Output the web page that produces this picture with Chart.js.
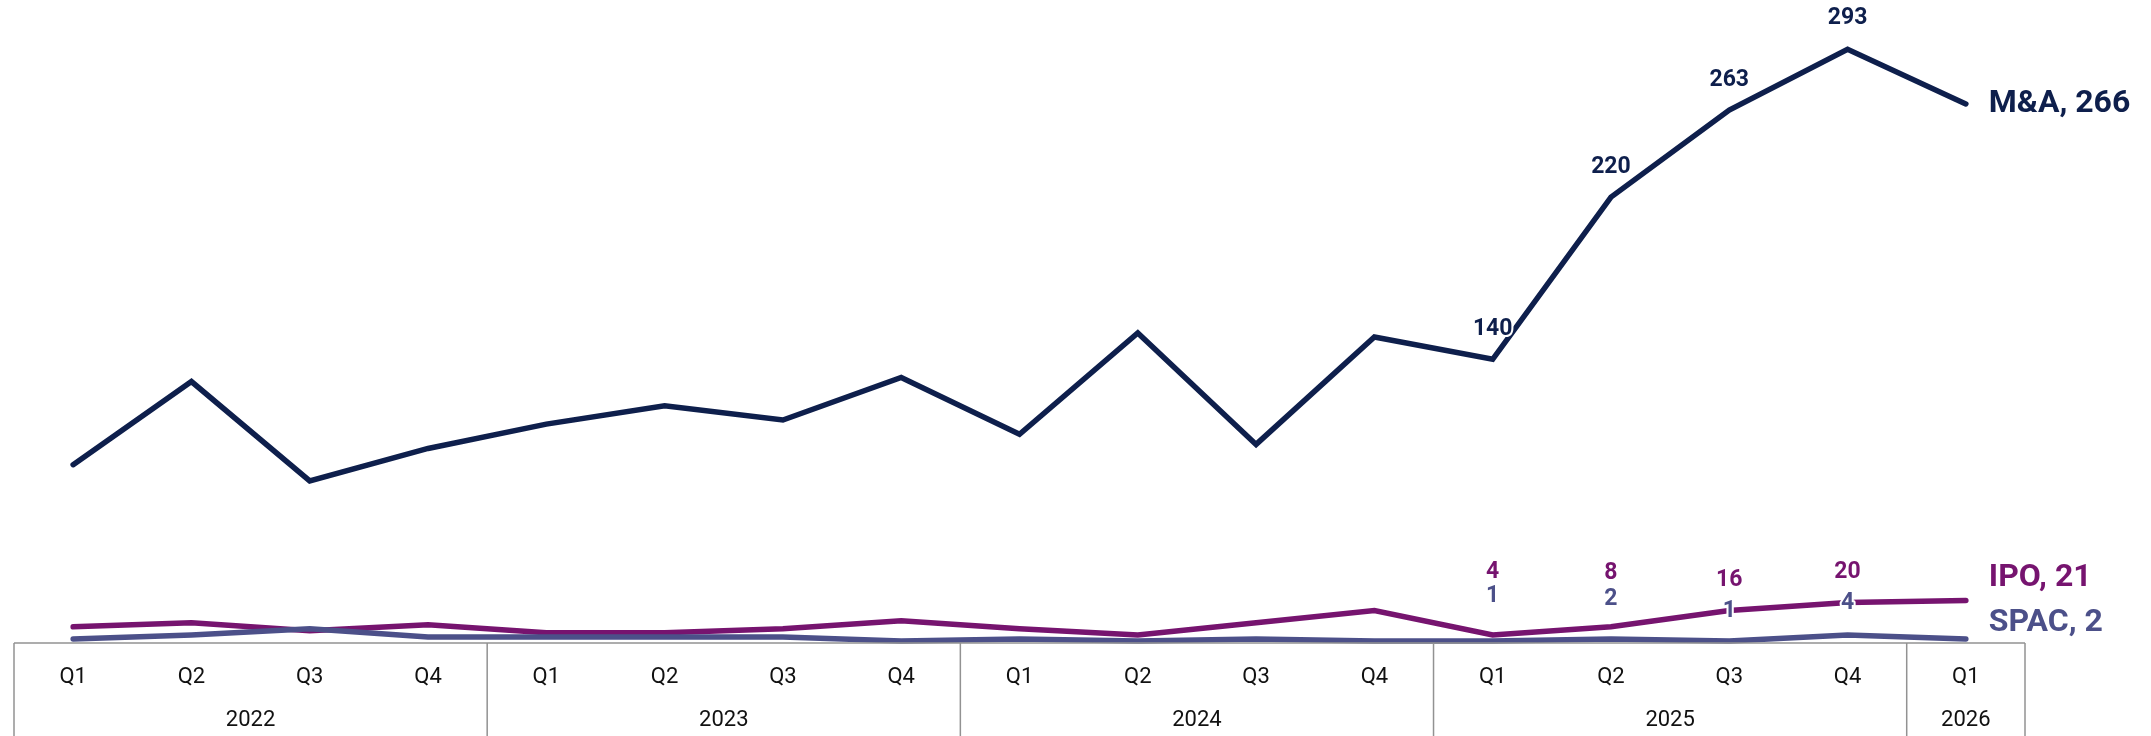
<!DOCTYPE html>
<html>
<head>
<meta charset="utf-8">
<script src="https://cdn.jsdelivr.net/npm/chart.js@4.4.1/dist/chart.umd.min.js"></script>
<style>
  html, body { margin: 0; padding: 0; background: #fff; }
  #wrap { width: 2151px; height: 736px; position: relative; }
</style>
</head>
<body>
<div id="wrap"><canvas id="chart"></canvas></div>
<script>
// ── Data ──────────────────────────────────────────────────────────
const quarters = ['Q1','Q2','Q3','Q4','Q1','Q2','Q3','Q4','Q1','Q2','Q3','Q4','Q1','Q2','Q3','Q4','Q1'];
const years     = ['2022', '2023', '2024', '2025', '2026'];
const yearSizes = [4, 4, 4, 4, 1];

const mna  = [88, 129, 80, 96, 108, 117, 110, 131, 103, 153, 98, 151, 140, 220, 263, 293, 266];
const ipo  = [8, 10, 6, 9, 5, 5, 7, 11, 7, 4, 10, 16, 4, 8, 16, 20, 21];
const spac = [2, 4, 7, 3, 3, 3, 3, 1, 2, 1, 2, 1, 1, 2, 1, 4, 2];

// ── Styling ───────────────────────────────────────────────────────
const COLORS = { mna: '#0e1f4c', ipo: '#76146f', spac: '#4c5089' };
const LABEL_FROM = 12;                 // value labels from Q1 2025 onward
const SERIES = [
  { key: 'mna',  name: 'M&A',  data: mna,  labelDy: [30, 30, 30, 31], endDy: 0,  order: 0 },
  { key: 'ipo',  name: 'IPO',  data: ipo,  labelDy: [63, 54, 30, 30], endDy: 22, order: 2 },
  { key: 'spac', name: 'SPAC', data: spac, labelDy: [45, 40, 30, 32], endDy: 16, order: 1 },
];
const FONT = "Roboto, 'Noto Sans', sans-serif";
const BOX  = '#929292';

// ── Plugin: category box + years ──────────────────────────────────
const axisBox = {
  id: 'axisBox',
  afterDraw(chart) {
    const { ctx } = chart;
    const x = chart.scales.x;
    const half = (x.getPixelForValue(1) - x.getPixelForValue(0)) / 2;
    const top = x.top, bottom = chart.height;
    ctx.save();
    ctx.strokeStyle = BOX;
    ctx.lineWidth = 1.5;
    ctx.beginPath();
    ctx.moveTo(x.left, top);
    ctx.lineTo(x.right, top);
    let idx = 0;
    const edges = [x.getPixelForValue(0) - half];
    yearSizes.forEach(n => { idx += n; edges.push(x.getPixelForValue(idx - 1) + half); });
    edges.forEach(px => { ctx.moveTo(px, top); ctx.lineTo(px, bottom); });
    ctx.stroke();

    ctx.fillStyle = '#111';
    ctx.font = '22px ' + FONT;
    ctx.textAlign = 'center';
    ctx.textBaseline = 'middle';
    idx = 0;
    years.forEach((yr, i) => {
      const a = x.getPixelForValue(idx);
      const b = x.getPixelForValue(idx + yearSizes[i] - 1);
      ctx.fillText(yr, (a + b) / 2, 720);
      idx += yearSizes[i];
    });
    ctx.restore();
  }
};

// ── Plugin: value labels + series names ───────────────────────────
const valueLabels = {
  id: 'valueLabels',
  afterDatasetsDraw(chart) {
    const { ctx } = chart;
    ctx.save();
    ctx.textAlign = 'center';
    ctx.textBaseline = 'middle';
    ctx.lineJoin = 'round';
    SERIES.forEach((s, di) => {
      const meta = chart.getDatasetMeta(di);
      ctx.font = 'bold 23px ' + FONT;
      for (let i = LABEL_FROM; i < s.data.length - 1; i++) {
        const pt = meta.data[i];
        const y = pt.y - s.labelDy[i - LABEL_FROM];
        ctx.strokeStyle = '#fff';
        ctx.lineWidth = 4;
        ctx.strokeText(String(s.data[i]), pt.x, y);
        ctx.fillStyle = COLORS[s.key];
        ctx.fillText(String(s.data[i]), pt.x, y);
      }
      const last = meta.data[s.data.length - 1];
      ctx.textAlign = 'left';
      ctx.font = 'bold 32px ' + FONT;
      ctx.fillStyle = COLORS[s.key];
      ctx.fillText(s.name + ', ' + s.data[s.data.length - 1], last.x + 23, last.y - s.endDy);
      ctx.textAlign = 'center';
    });
    ctx.restore();
  }
};

// ── Chart ─────────────────────────────────────────────────────────
new Chart(document.getElementById('chart'), {
  type: 'line',
  data: {
    labels: quarters,
    datasets: SERIES.map(s => ({
      label: s.name,
      data: s.data,
      borderColor: COLORS[s.key],
      backgroundColor: COLORS[s.key],
      borderWidth: 5.5,
      borderCapStyle: 'round',
      borderJoinStyle: 'miter',
      pointRadius: 0,
      tension: 0,
      order: s.order,
      clip: false,
    })),
  },
  options: {
    responsive: true,
    maintainAspectRatio: false,
    animation: false,
    layout: { padding: { left: 14, right: 126, top: 35, bottom: 0 } },
    plugins: { legend: { display: false }, tooltip: { enabled: false } },
    scales: {
      x: {
        offset: true,
        grid: { display: false, drawTicks: false },
        border: { display: false },
        ticks: {
          color: '#111',
          font: { family: FONT, size: 22 },
          padding: 21,
          maxRotation: 0,
          autoSkip: false,
        },
        afterFit: scale => { scale.height = 93; },
      },
      y: {
        display: false,
        min: 0,
        max: 300,
      },
    },
  },
  plugins: [axisBox, valueLabels],
});
</script>
</body>
</html>
